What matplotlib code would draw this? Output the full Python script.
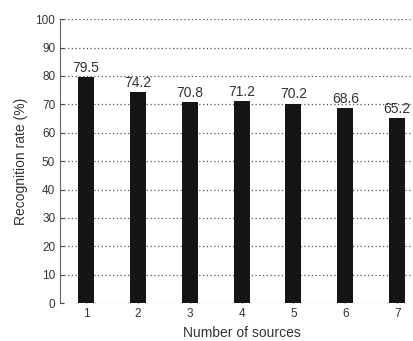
import matplotlib
matplotlib.use('Agg')
import matplotlib.pyplot as plt

plt.rcParams['font.family'] = ['Liberation Sans', 'DejaVu Sans']

sources = [1, 2, 3, 4, 5, 6, 7]
rates = [79.5, 74.2, 70.8, 71.2, 70.2, 68.6, 65.2]
yticks = [0, 10, 20, 30, 40, 50, 60, 70, 80, 90, 100]

fig = plt.figure(figsize=(4.14, 3.41), dpi=100)
ax = fig.add_axes([0.145, 0.111, 0.877, 0.833])

ax.bar(sources, rates, width=0.31, color='#151515', zorder=3)

for x, v in zip(sources, rates):
    ax.text(x, v + 0.8, f'{v}', ha='center', va='bottom', fontsize=10, color='#333333')

ax.set_xlim(0.5, 7.5)
ax.set_ylim(0, 100)
ax.set_xticks(sources)
ax.set_yticks(yticks)
ax.tick_params(direction='in', length=3, labelsize=8.5, colors='#444444', labelcolor='#333333')

ax.grid(axis='y', linestyle=(0, (1, 2)), color='#555555', linewidth=0.9, zorder=0)
ax.spines['top'].set_visible(False)
ax.spines['right'].set_visible(False)
ax.spines['bottom'].set_visible(False)
ax.spines['left'].set_color('#666666')

ax.set_xlabel('Number of sources', fontsize=10, color='#333333', labelpad=4)
ax.set_ylabel('Recognition rate (%)', fontsize=10, color='#333333', labelpad=5)

fig.savefig('out.png', dpi=100)
